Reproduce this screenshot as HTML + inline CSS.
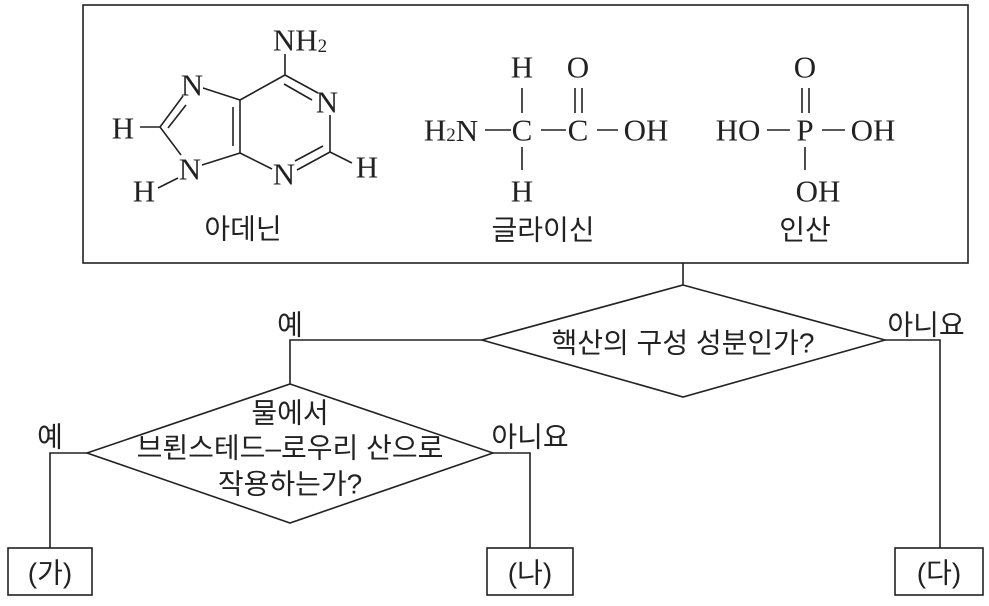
<!DOCTYPE html>
<html><head><meta charset="utf-8"><style>
html,body{margin:0;padding:0;background:#fff;}
svg{display:block;}
.c{font-family:"Liberation Serif",serif;font-size:31px;fill:#222;}
.k{font-family:"Liberation Sans","Noto Sans CJK KR",sans-serif;font-size:28px;fill:#222;}
</style></head><body>
<svg width="989" height="606" viewBox="0 0 989 606" xmlns="http://www.w3.org/2000/svg">
<g stroke="#222" stroke-width="1.6" fill="none">
<rect x="83" y="5" width="885" height="258"/>
<line x1="285" y1="54" x2="285" y2="75"/>
<line x1="285" y1="75" x2="318" y2="93"/>
<line x1="284" y1="84" x2="312" y2="100"/>
<line x1="330" y1="115" x2="330" y2="152"/>
<line x1="330" y1="152" x2="297" y2="170"/>
<line x1="323" y1="146" x2="295" y2="161"/>
<line x1="330" y1="152" x2="352" y2="163"/>
<line x1="272" y1="169" x2="240" y2="153"/>
<line x1="240" y1="100" x2="240" y2="153"/>
<line x1="233" y1="107" x2="233" y2="146"/>
<line x1="240" y1="100" x2="285" y2="75"/>
<line x1="240" y1="100" x2="203" y2="88"/>
<line x1="183" y1="96" x2="160" y2="127"/>
<line x1="186" y1="105" x2="168" y2="128"/>
<line x1="160" y1="127" x2="140" y2="127"/>
<line x1="160" y1="127" x2="181" y2="155"/>
<line x1="202" y1="165" x2="240" y2="153"/>
<line x1="178" y1="178" x2="158" y2="188"/>
<line x1="485" y1="130" x2="511" y2="130"/>
<line x1="541" y1="130" x2="566" y2="130"/>
<line x1="597" y1="130" x2="618" y2="130"/>
<line x1="522" y1="88" x2="522" y2="113"/>
<line x1="522" y1="147" x2="522" y2="170"/>
<line x1="575" y1="88" x2="575" y2="113"/>
<line x1="582" y1="88" x2="582" y2="113"/>
<line x1="767" y1="130" x2="790" y2="130"/>
<line x1="822" y1="130" x2="845" y2="130"/>
<line x1="802" y1="88" x2="802" y2="113"/>
<line x1="809" y1="88" x2="809" y2="113"/>
<line x1="805" y1="147" x2="805" y2="170"/>
<line x1="683" y1="263" x2="683" y2="285"/>
<polygon points="683,285 885,340 683,397 482,340"/>
<polyline points="482,340 290,340 290,384"/>
<polyline points="885,340 940,340 940,548"/>
<polygon points="290,384 493,453 290,523 87,453"/>
<polyline points="87,453 50,453 50,548"/>
<polyline points="493,453 530,453 530,548"/>
<rect x="8" y="548" width="84" height="47"/>
<rect x="487" y="548" width="86" height="47"/>
<rect x="895" y="548" width="88" height="47"/>
</g>
<g class="c" text-anchor="middle" dominant-baseline="central">
<text x="300" y="40">NH<tspan font-size="19" dy="6">2</tspan></text>
<text x="327" y="102">N</text>
<text x="367" y="167">H</text>
<text x="284" y="174">N</text>
<text x="192" y="85">N</text>
<text x="123" y="128">H</text>
<text x="190" y="169">N</text>
<text x="144" y="191">H</text>
<text x="522" y="67">H</text>
<text x="578" y="67">O</text>
<text x="451" y="130">H<tspan font-size="19" dy="5">2</tspan><tspan dy="-5">N</tspan></text>
<text x="522" y="130">C</text>
<text x="578" y="130">C</text>
<text x="646" y="130">OH</text>
<text x="522" y="191">H</text>
<text x="805" y="67">O</text>
<text x="738" y="130">HO</text>
<text x="805" y="130">P</text>
<text x="873" y="130">OH</text>
<text x="818" y="191">OH</text>
</g>
<g class="k" text-anchor="middle" dominant-baseline="central">
<text x="243" y="229">아데닌</text>
<text x="543" y="230">글라이신</text>
<text x="805" y="230">인산</text>
<text x="683" y="343">핵산의 구성 성분인가?</text>
<text x="290" y="325">예</text>
<text x="926" y="325">아니요</text>
<text x="290" y="413">물에서</text>
<text x="290" y="448">브뢴스테드–로우리 산으로</text>
<text x="290" y="484">작용하는가?</text>
<text x="50" y="437">예</text>
<text x="530" y="437">아니요</text>
<text x="50" y="573">(가)</text>
<text x="530" y="573">(나)</text>
<text x="939" y="573">(다)</text>
</g>
</svg>
</body></html>
